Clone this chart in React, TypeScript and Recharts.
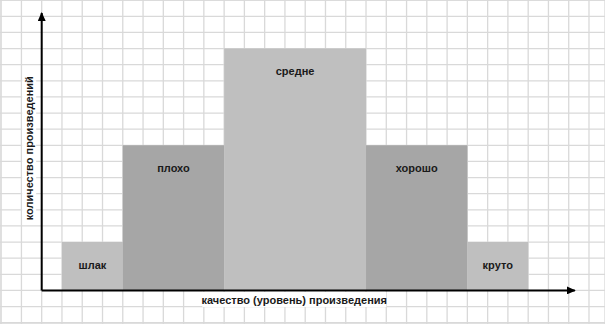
import { ComposedChart, CartesianGrid, XAxis, YAxis, ReferenceArea, ReferenceLine, Label } from "recharts";

// histogram bins: variable widths (grid cells), height = count (grid cells)
const CATEGORIES = ["шлак", "плохо", "средне", "хорошо", "круто"];
const BIN_WIDTHS = [3, 5, 7, 5, 3];
const COUNTS = [3, 9, 15, 9, 3];
const FIRST_EDGE = 1;

const X_TITLE = "качество (уровень) произведения";
const Y_TITLE = "количество произведений";

// axis extents (arrow tips), in grid cells
const X_AXIS_END = 26.3;
const Y_AXIS_END = 17.2;

const BAR_FILLS = ["#bfbfbf", "#a6a6a6", "#bfbfbf", "#a6a6a6", "#bfbfbf"];
const FONT = "'Liberation Sans', Arial, sans-serif";

const X_DOMAIN: [number, number] = [-2.057, 27.79];
const Y_DOMAIN: [number, number] = [-2.08, 18.01];
const X_TICKS = Array.from({ length: 30 }, (_, i) => i - 2);
const Y_TICKS = Array.from({ length: 21 }, (_, i) => i - 2);

const edges = BIN_WIDTHS.reduce<number[]>(
  (acc, w) => [...acc, acc[acc.length - 1] + w],
  [FIRST_EDGE]
);

const ArrowLine = (props: any) => (
  <line
    x1={props.x1}
    y1={props.y1}
    x2={props.x2}
    y2={props.y2}
    stroke="#000"
    strokeWidth={2}
    markerEnd="url(#axisArrow)"
  />
);

const titleStyle = {
  fontFamily: FONT,
  fontWeight: 700,
  fontSize: 11,
  fill: "#1a1a1a",
};

const YTitle = ({ viewBox }: any) => {
  const cx = viewBox.x - 12.5;
  const cy = viewBox.y + viewBox.height / 2 - 3.5;
  return (
    <g>
      <rect x={cx - 7} y={cy - 68} width={14} height={136} fill="#fff" />
      <text
        x={cx}
        y={cy}
        transform={`rotate(-90 ${cx} ${cy})`}
        textAnchor="middle"
        dominantBaseline="central"
        style={titleStyle}
      >
        {Y_TITLE}
      </text>
    </g>
  );
};

const XTitle = ({ viewBox }: any) => {
  const cx = viewBox.x + viewBox.width / 2 - 14;
  const cy = viewBox.y + 9.5;
  return (
    <g>
      <rect x={cx - 92} y={cy - 8} width={184} height={15} fill="#fff" />
      <text x={cx} y={cy} textAnchor="middle" dominantBaseline="central" style={titleStyle}>
        {X_TITLE}
      </text>
    </g>
  );
};

export default function App() {
  return (
    <div style={{ position: "absolute", left: 0, top: 0, background: "#fff" }}>
      <ComposedChart width={605} height={324} margin={{ top: 0, right: 0, bottom: 0, left: 0 }}>
        <defs>
          <marker
            id="axisArrow"
            markerUnits="userSpaceOnUse"
            markerWidth={9}
            markerHeight={8}
            refX={8}
            refY={4}
            orient="auto"
          >
            <path d="M0,0 L9,4 L0,8 z" fill="#000" />
          </marker>
        </defs>
        <XAxis
          type="number"
          dataKey="x"
          domain={X_DOMAIN}
          ticks={X_TICKS}
          interval={0}
          allowDataOverflow
          hide
        />
        <YAxis
          type="number"
          domain={Y_DOMAIN}
          ticks={Y_TICKS}
          interval={0}
          allowDataOverflow
          hide
        />
        <CartesianGrid stroke="#d9d9d9" strokeWidth={1.3} />
        {CATEGORIES.map((name, i) => (
          <ReferenceArea
            key={name}
            x1={edges[i]}
            x2={edges[i + 1]}
            y1={0}
            y2={COUNTS[i]}
            fill={BAR_FILLS[i]}
            fillOpacity={1}
            stroke="none"
            label={{
              value: name,
              position: "insideTop",
              offset: 19,
              fontFamily: FONT,
              fontWeight: 700,
              fontSize: 11,
              fill: "#1a1a1a",
            }}
          />
        ))}
        <ReferenceLine
          segment={[
            { x: 0, y: 0 },
            { x: X_AXIS_END, y: 0 },
          ]}
          shape={ArrowLine}
        >
          <Label content={XTitle} />
        </ReferenceLine>
        <ReferenceLine
          segment={[
            { x: 0, y: 0 },
            { x: 0, y: Y_AXIS_END },
          ]}
          shape={ArrowLine}
        >
          <Label content={YTitle} />
        </ReferenceLine>
      </ComposedChart>
    </div>
  );
}
